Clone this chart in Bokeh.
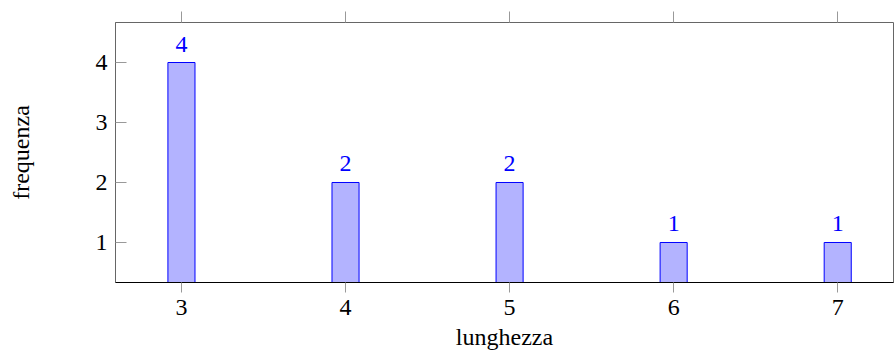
from bokeh.plotting import figure
from bokeh.models import LinearAxis, Range1d, FixedTicker, ColumnDataSource
from bokeh.core.properties import value
from bokeh.embed import file_html
from bokeh.resources import INLINE

lunghezza = [3, 4, 5, 6, 7]
frequenza = [4, 2, 2, 1, 1]
labels = [str(v) for v in frequenza]

FONT = "Liberation Serif"
FS = "24px"
src = ColumnDataSource(dict(x=lunghezza, top=frequenza, lab=labels))

p = figure(width=894, height=354, output_backend="svg", toolbar_location=None,
           x_range=Range1d(2.598, 7.34), y_range=Range1d(0.333, 4.667),
           min_border_left=115, min_border_right=1, min_border_top=22, min_border_bottom=72)
p.grid.visible = False
p.outline_line_color = "#666666"
p.outline_line_width = 1
p.background_fill_color = "white"
p.border_fill_color = "white"

p.vbar(x="x", top="top", bottom=0, width=0.165, source=src,
       fill_color="#b3b3ff", line_color="#0000ff", line_width=1)
p.text(x="x", y="top", text="lab", source=src, text_align="center",
       text_baseline="bottom", y_offset=-11, text_color="#0000ff",
       text_font=value(FONT), text_font_size=FS)

xa = p.xaxis[0]
xa.ticker = FixedTicker(ticks=lunghezza)
xa.axis_line_color = "black"
xa.major_tick_line_color = "#999999"
xa.major_tick_in = 0
xa.major_tick_out = 10
xa.minor_tick_line_color = None
xa.major_label_text_font = FONT
xa.major_label_text_font_size = FS
xa.major_label_text_color = "black"
xa.major_label_standoff = 7
xa.axis_label = "lunghezza"
xa.axis_label_text_font = FONT
xa.axis_label_text_font_style = "normal"
xa.axis_label_text_font_size = FS
xa.axis_label_text_color = "black"
xa.axis_label_standoff = 6

ya = p.yaxis[0]
ya.ticker = FixedTicker(ticks=[1, 2, 3, 4])
ya.axis_line_color = "#666666"
ya.major_tick_line_color = "#999999"
ya.major_tick_in = 11
ya.major_tick_out = 0
ya.minor_tick_line_color = None
ya.major_label_text_font = FONT
ya.major_label_text_font_size = FS
ya.major_label_text_color = "black"
ya.major_label_standoff = 8
ya.axis_label = "frequenza"
ya.axis_label_text_font = FONT
ya.axis_label_text_font_style = "normal"
ya.axis_label_text_font_size = FS
ya.axis_label_text_color = "black"
ya.axis_label_standoff = 59

top = LinearAxis(ticker=FixedTicker(ticks=lunghezza), axis_line_color=None,
                 major_tick_line_color="#999999", major_tick_in=0, major_tick_out=11,
                 minor_tick_line_color=None,
                 major_label_overrides={t: "" for t in lunghezza},
                 major_label_standoff=0)
p.add_layout(top, "above")

open("out.html", "w").write(file_html(p, INLINE))
